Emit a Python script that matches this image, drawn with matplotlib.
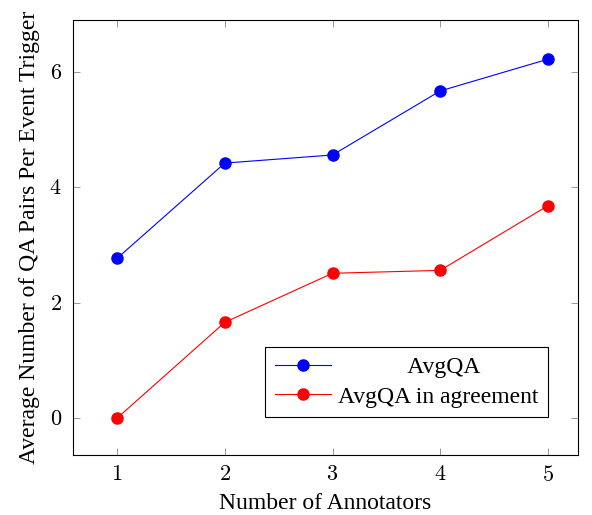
import matplotlib.pyplot as plt
from matplotlib.ticker import FuncFormatter

plt.rcParams['font.family'] = 'Liberation Serif'
plt.rcParams['mathtext.fontset'] = 'cm'

annotators = [1, 2, 3, 4, 5]
avg_qa = [2.77, 4.42, 4.56, 5.67, 6.22]        # AvgQA
avg_qa_agree = [0.0, 1.66, 2.51, 2.56, 3.68]   # AvgQA in agreement

fig = plt.figure(figsize=(5.92, 5.15), dpi=100)
ax = fig.add_axes([0.1233, 0.1165, 0.8531, 0.8447])

ax.plot(annotators, avg_qa, '-o', color='#0000ff', lw=0.8, ms=8, label='AvgQA')
ax.plot(annotators, avg_qa_agree, '-o', color='#ff0000', lw=0.8, ms=8, label='AvgQA in agreement')

ax.set_xlim(0.59, 5.28)
ax.set_ylim(-0.64, 6.9)
ax.set_xticks(annotators)
ax.set_yticks([0, 2, 4, 6])
ax.xaxis.set_major_formatter(FuncFormatter(lambda v, p: '$%d$' % v))
ax.yaxis.set_major_formatter(FuncFormatter(lambda v, p: '$%d$' % v))
ax.tick_params(direction='in', top=True, right=True, length=5, width=0.6,
               color='#888888', labelsize=16, pad=8)
for s in ax.spines.values():
    s.set_linewidth(0.8)

ax.set_xlabel('Number of Annotators', fontsize=17, labelpad=5)
ax.set_ylabel('Average Number of QA Pairs Per Event Trigger', fontsize=17, labelpad=7)

# pad first label so it sits centred like the reference legend
leg = ax.legend(['            AvgQA', 'AvgQA in agreement'],
                loc='lower right', bbox_to_anchor=(0.941, 0.087), fancybox=False,
                edgecolor='black', framealpha=1, fontsize=17, borderpad=0.4,
                handlelength=2.4, handletextpad=0.3, labelspacing=0.35, borderaxespad=0)
leg.get_frame().set_linewidth(0.8)

plt.savefig('out.png', dpi=100)
